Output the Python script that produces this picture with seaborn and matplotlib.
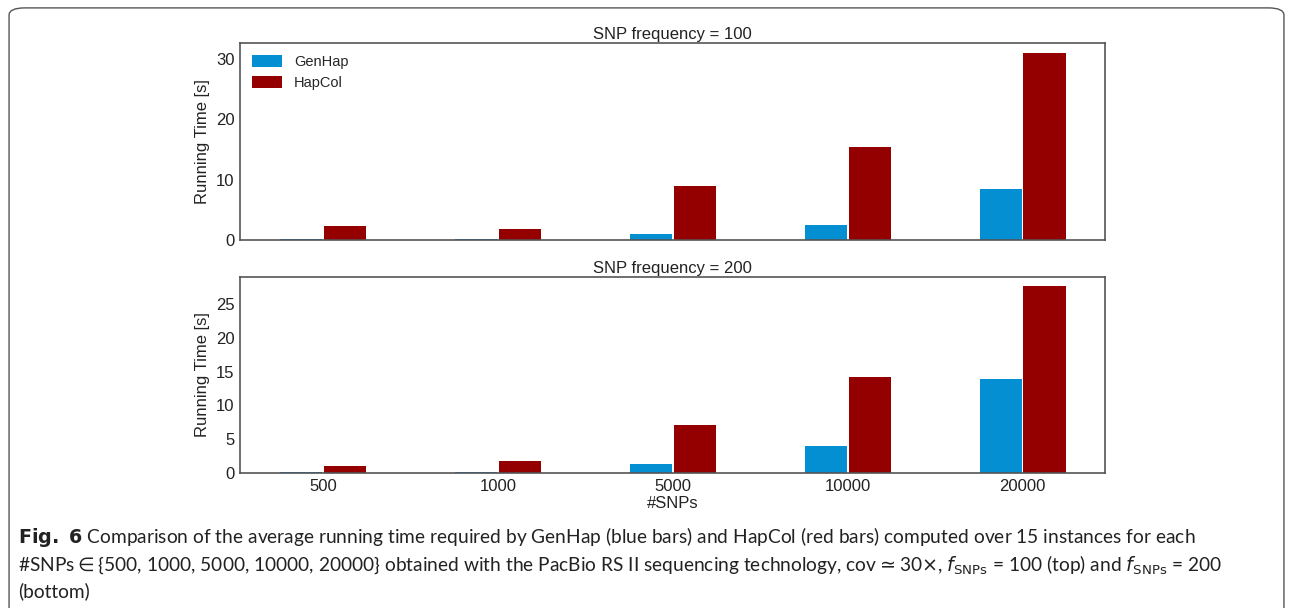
import matplotlib
matplotlib.use('Agg')
import matplotlib.pyplot as plt
from matplotlib.patches import FancyBboxPatch
import seaborn as sns
import pandas as pd

# %% data
snps = ['500', '1000', '5000', '10000', '20000']
genhap_100 = [0.2, 0.1, 1.0, 2.5, 8.5]
hapcol_100 = [2.3, 1.8, 9.0, 15.4, 31.0]
genhap_200 = [0.2, 0.15, 1.3, 4.0, 13.9]
hapcol_200 = [1.0, 1.8, 7.1, 14.2, 27.7]
tools = ['GenHap', 'HapCol']
colors = ['#058fd3', '#940000']


def long_df(gen, hap):
    return pd.DataFrame({
        'snps': snps * 2,
        'time': gen + hap,
        'tool': [tools[0]] * len(snps) + [tools[1]] * len(snps),
    })


df100 = long_df(genhap_100, hapcol_100)
df200 = long_df(genhap_200, hapcol_200)

# %% plotting
sns.set_style('white')
plt.rcParams['font.family'] = ['Liberation Sans', 'DejaVu Sans']
plt.rcParams['mathtext.fontset'] = 'dejavusans'

fig = plt.figure(figsize=(12.93, 6.08), dpi=100)
ax1 = fig.add_axes([0.1856, 0.6053, 0.669, 0.324])
ax2 = fig.add_axes([0.1856, 0.222, 0.669, 0.3224])

for ax, df, title, ymax, ticks in [
    (ax1, df100, 'SNP frequency = 100', 32.7, [0, 10, 20, 30]),
    (ax2, df200, 'SNP frequency = 200', 29.0, [0, 5, 10, 15, 20, 25]),
]:
    sns.barplot(data=df, x='snps', y='time', hue='tool', order=snps,
                hue_order=tools, palette=colors, width=0.5, gap=0.03, ax=ax,
                linewidth=0, saturation=1)
    ax.set_ylim(0, ymax)
    ax.set_xlim(-0.475, 4.47)
    ax.set_yticks(ticks)
    ax.set_title(title, fontsize=12, color='#222222', pad=3)
    ax.set_ylabel('Running Time [s]', fontsize=12, color='#222222')
    ax.tick_params(axis='both', labelsize=12, colors='#222222', length=0, pad=4)
    for s in ax.spines.values():
        s.set_color('#555555')
        s.set_linewidth(1.2)
    ax.get_legend().remove()

ax1.set_xlabel('')
ax1.set_xticklabels([])
ax2.set_xlabel('#SNPs', fontsize=12, color='#222222', labelpad=2)

ax1.legend(loc='upper left', frameon=False, fontsize=10.5, handlelength=2.1,
           handleheight=0.9, handletextpad=0.8, borderaxespad=0.4,
           labelspacing=0.5)

# %% frame and caption
fig.patches.append(FancyBboxPatch((0.007, -0.05), 0.986, 1.037,
                                  boxstyle='round,pad=0,rounding_size=0.012',
                                  transform=fig.transFigure, fill=False,
                                  edgecolor='#555555', linewidth=1.0))

cap_font = 'Lato'
fig.text(0.014, 0.117,
         r'$\mathbf{Fig.\ 6}$ Comparison of the average running time required by GenHap (blue bars) '
         'and HapCol (red bars) computed over 15 instances for each',
         fontsize=13.8, family=cap_font, color='#222222', va='center')
fig.text(0.014, 0.072,
         r'#SNPs$\in${500, 1000, 5000, 10000, 20000} obtained with the PacBio RS II sequencing '
         r'technology, cov$\simeq$30$\times$, $f_{\mathrm{SNPs}}$ = 100 (top) and $f_{\mathrm{SNPs}}$ = 200',
         fontsize=13.8, family=cap_font, color='#222222', va='center')
fig.text(0.014, 0.028, '(bottom)',
         fontsize=13.8, family=cap_font, color='#222222', va='center')

plt.savefig('out.png', dpi=100)
